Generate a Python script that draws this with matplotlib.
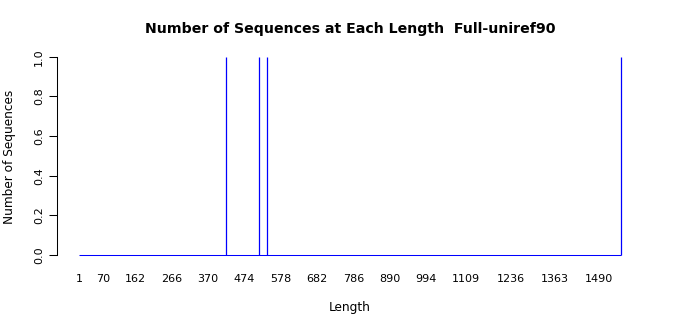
import matplotlib
matplotlib.use("Agg")
import matplotlib.pyplot as plt
import numpy as np

# sequence lengths found in Full-uniref90 (one sequence each)
SEQ_LENGTHS = [422, 516, 540, 1552]
MAX_LENGTH = 1552
X_TICK_LABELS = [1, 70, 162, 266, 370, 474, 578, 682, 786, 890, 994, 1109, 1236, 1363, 1490]
Y_TICKS = [0.0, 0.2, 0.4, 0.6, 0.8, 1.0]

BAR_COLOR = "#0000ff"
INK = "#000000"
W, H = 700, 315

plt.rcParams.update({
  "font.family": "DejaVu Sans",
  "font.size": 8,
})

lengths = np.arange(1, MAX_LENGTH + 1)
counts = np.bincount(SEQ_LENGTHS, minlength=MAX_LENGTH + 1)[1:]

fig = plt.figure(figsize=(W / 100, H / 100), dpi=100, facecolor="white")
ax = fig.add_axes([57.2 / W, 1 - 263.0 / H, 585.5 / W, 214.2 / H])

# R barplot look: each length is a very thin bar, zero-count bars collapse
# into a blue baseline
bar_w = 1 / 1.2
ax.hlines(0, lengths[0] - bar_w / 2, lengths[-1] + bar_w / 2,
          color=BAR_COLOR, linewidth=0.75)
nz = counts > 0
ax.vlines(lengths[nz], 0, counts[nz], color=BAR_COLOR, linewidth=0.9)

left = 1 - 0.5 / 1.2
right = MAX_LENGTH + 0.5 / 1.2 - 0.1 / 1.2 + 0.1
span = right - left
ax.set_xlim(left - 0.04 * span, right + 0.04 * span)
ax.set_ylim(-0.04, 1.04)

ax.set_xticks(X_TICK_LABELS)
ax.set_xticklabels([str(v) for v in X_TICK_LABELS])
ax.tick_params(axis="x", length=0, pad=7.8, labelsize=8, colors=INK)

ax.set_yticks(Y_TICKS)
ax.set_yticklabels([f"{v:.1f}" for v in Y_TICKS], rotation=90, va="center")
ax.tick_params(axis="y", length=5.5, width=0.75, pad=4, labelsize=8, colors=INK)

for side in ["top", "right", "bottom"]:
  ax.spines[side].set_visible(False)
ax.spines["left"].set_bounds(0, 1)
ax.spines["left"].set_linewidth(0.75)
ax.patch.set_visible(False)

fig.text(0.5, 1 - 29 / H, "Number of Sequences at Each Length  Full-uniref90",
         ha="center", va="center", fontsize=10.2, fontweight="bold", color=INK)
fig.text(350 / W, 1 - 307.5 / H, "Length", ha="center", va="center",
         fontsize=8.7, color=INK)
fig.text(9.5 / W, 1 - 157 / H, "Number of Sequences", ha="center", va="center",
         rotation=90, fontsize=8.7, color=INK)

fig.savefig("out.png", dpi=100, facecolor="white")
plt.close(fig)
